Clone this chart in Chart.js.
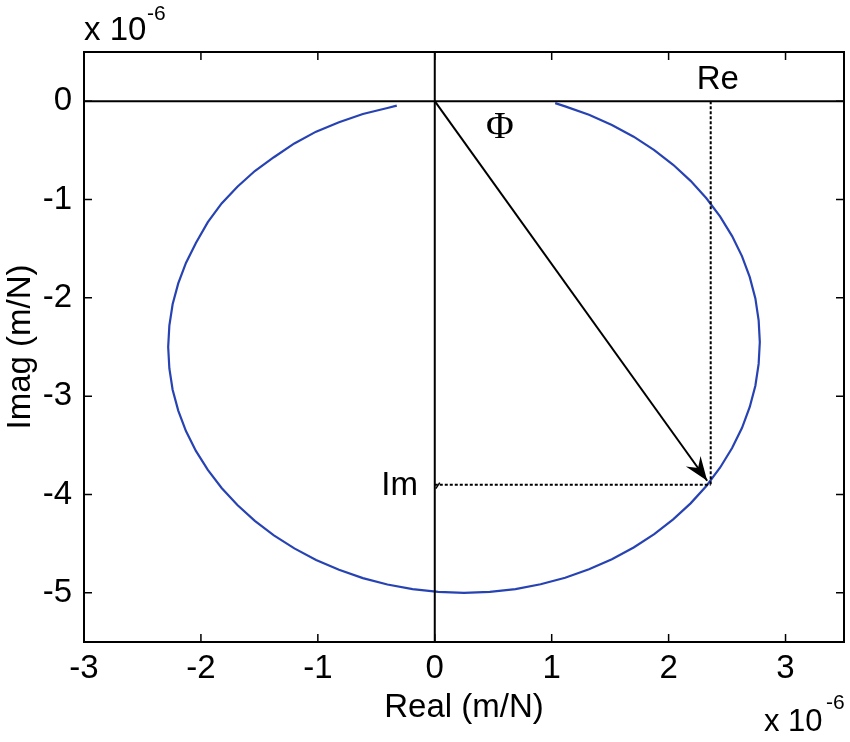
<!DOCTYPE html>
<html>
<head>
<meta charset="utf-8">
<script src="https://cdn.jsdelivr.net/npm/chart.js@4/dist/chart.umd.min.js"></script>
<style>
  html, body { margin: 0; padding: 0; background: #fff; }
  #wrap { width: 850px; height: 742px; }
</style>
</head>
<body>
<div id="wrap"><canvas id="c" width="850" height="742"></canvas></div>
<script>
// ---- Data (units of 1e-6 m/N) ----
const curveRe = [1.03, 1.115, 1.319, 1.515, 1.701, 1.877, 2.039, 2.188, 2.323, 2.441, 2.543, 2.628, 2.694, 2.742, 2.770, 2.78,
                 2.770, 2.742, 2.694, 2.628, 2.543, 2.441, 2.323, 2.188, 2.039, 1.877, 1.701, 1.515, 1.319, 1.115, 0.905, 0.69, 0.471, 0.25,
                 0.029, -0.19, -0.405, -0.615, -0.819, -1.015, -1.201, -1.376, -1.539, -1.688, -1.823, -1.941, -2.043, -2.128, -2.194, -2.242, -2.270, -2.28,
                 -2.270, -2.242, -2.194, -2.128, -2.043, -1.941, -1.823, -1.688, -1.539, -1.376, -1.201, -1.015, -0.819, -0.615, -0.405, -0.325];
const curveIm = [-0.02, -0.053, -0.139, -0.242, -0.361, -0.497, -0.647, -0.81, -0.987, -1.175, -1.372, -1.578, -1.79, -2.006, -2.228, -2.45,
                 -2.672, -2.894, -3.11, -3.322, -3.528, -3.725, -3.913, -4.09, -4.253, -4.403, -4.539, -4.658, -4.761, -4.847, -4.913, -4.962, -4.99, -5.0,
                 -4.99, -4.962, -4.915, -4.85, -4.766, -4.665, -4.548, -4.415, -4.268, -4.107, -3.934, -3.75, -3.557, -3.355, -3.147, -2.934, -2.718, -2.5,
                 -2.282, -2.066, -1.853, -1.645, -1.443, -1.23, -1.04, -0.87, -0.71, -0.57, -0.43, -0.31, -0.215, -0.13, -0.07, -0.045];
const xTicks = [-3, -2, -1, 0, 1, 2, 3];
const yTicks = [0, -1, -2, -3, -4, -5];
const xRange = [-3, 3.5];
const yRange = [-5.5, 0.5];
const pointRe = 2.36;      // projection on Re
const pointIm = -3.9;      // projection on Im
const arrowTip = [2.33, -3.86];
const labels = [
  { text: 'Re', x: 2.42, y: 0.22, font: '33px "Liberation Sans", Arial, sans-serif' },
  { text: 'Φ',  x: 0.556, y: -0.27, font: '38px "Liberation Serif", "Times New Roman", serif' },
  { text: 'Im', x: -0.30, y: -3.91, font: '33px "Liberation Sans", Arial, sans-serif' }
];

const FONT = '"Liberation Sans", Arial, Helvetica, sans-serif';
const FS = 33;

const curveData = curveRe.map((v, i) => ({ x: v, y: curveIm[i] }));

const decor = {
  id: 'decor',
  afterDatasetsDraw(chart) {
    const ctx = chart.ctx;
    const xs = chart.scales.x, ys = chart.scales.y;
    ctx.save();
    // arrowhead
    const ox = xs.getPixelForValue(0), oy = ys.getPixelForValue(0);
    const tx = xs.getPixelForValue(arrowTip[0]), ty = ys.getPixelForValue(arrowTip[1]);
    let ux = tx - ox, uy = ty - oy;
    const len = Math.hypot(ux, uy); ux /= len; uy /= len;
    const nx = -uy, ny = ux;
    const L = 24, W = 9;
    ctx.fillStyle = '#000';
    ctx.beginPath();
    ctx.moveTo(tx, ty);
    ctx.lineTo(tx - L * ux + W * nx, ty - L * uy + W * ny);
    ctx.lineTo(tx - 0.65 * L * ux, ty - 0.65 * L * uy);
    ctx.lineTo(tx - L * ux - W * nx, ty - L * uy - W * ny);
    ctx.closePath();
    ctx.fill();
    // small tick near Im label
    ctx.strokeStyle = '#000';
    ctx.lineWidth = 1.5;
    ctx.beginPath();
    ctx.moveTo(ox + 1, ys.getPixelForValue(pointIm) + 4);
    ctx.lineTo(ox + 5, ys.getPixelForValue(pointIm) - 2);
    ctx.stroke();
    // labels
    ctx.fillStyle = '#000';
    ctx.textAlign = 'center';
    ctx.textBaseline = 'middle';
    labels.forEach(l => {
      ctx.font = l.font;
      ctx.fillText(l.text, xs.getPixelForValue(l.x), ys.getPixelForValue(l.y));
    });
    ctx.restore();
  },
  afterDraw(chart) {
    const ctx = chart.ctx;
    const a = chart.chartArea;
    const xs = chart.scales.x, ys = chart.scales.y;
    ctx.save();
    // frame
    ctx.strokeStyle = '#000';
    ctx.lineWidth = 2;
    ctx.strokeRect(a.left, a.top, a.right - a.left, a.bottom - a.top);
    // inward ticks on all sides
    const T = 8;
    ctx.lineWidth = 1.5;
    ctx.beginPath();
    xTicks.forEach(v => {
      const px = xs.getPixelForValue(v);
      ctx.moveTo(px, a.bottom); ctx.lineTo(px, a.bottom - T);
      ctx.moveTo(px, a.top); ctx.lineTo(px, a.top + T);
    });
    yTicks.forEach(v => {
      const py = ys.getPixelForValue(v);
      ctx.moveTo(a.left, py); ctx.lineTo(a.left + T, py);
      ctx.moveTo(a.right, py); ctx.lineTo(a.right - T, py);
    });
    ctx.stroke();
    // exponent labels
    ctx.fillStyle = '#000';
    ctx.textAlign = 'left';
    ctx.textBaseline = 'alphabetic';
    ctx.font = FS + 'px ' + FONT;
    ctx.fillText('x 10', 84, 40);
    ctx.font = '21px ' + FONT;
    ctx.fillText('-6', 147, 20);
    ctx.font = '31px ' + FONT;
    ctx.fillText('x 10', 764, 731);
    ctx.font = '21px ' + FONT;
    ctx.fillText('-6', 826, 709);
    ctx.restore();
  }
};

const lineDs = (data, opts) => Object.assign({
  data, showLine: true, borderColor: '#000', borderWidth: 2, pointRadius: 0, fill: false, tension: 0
}, opts || {});

new Chart(document.getElementById('c'), {
  type: 'scatter',
  data: {
    datasets: [
      lineDs([{ x: xRange[0], y: 0 }, { x: xRange[1], y: 0 }]),
      lineDs([{ x: 0, y: yRange[1] }, { x: 0, y: yRange[0] }]),
      lineDs([{ x: pointRe, y: 0 }, { x: pointRe, y: pointIm }], { borderDash: [3, 2], borderWidth: 2 }),
      lineDs([{ x: 0, y: pointIm }, { x: pointRe, y: pointIm }], { borderDash: [3, 2], borderWidth: 2 }),
      lineDs([{ x: 0, y: 0 }, { x: arrowTip[0], y: arrowTip[1] }]),
      lineDs(curveData, { borderColor: '#2743b3', borderWidth: 2.2 })
    ]
  },
  options: {
    responsive: false,
    animation: false,
    events: [],
    layout: { padding: { left: 0, top: 52, right: 6, bottom: 0 } },
    plugins: { legend: { display: false }, tooltip: { enabled: false } },
    scales: {
      x: {
        type: 'linear', min: xRange[0], max: xRange[1],
        afterBuildTicks: ax => { ax.ticks = xTicks.map(v => ({ value: v })); },
        afterFit: ax => { ax.height = 100; },
        grid: { display: false, drawTicks: false },
        border: { display: false },
        ticks: { color: '#000', font: { family: FONT, size: FS }, padding: 7, maxRotation: 0, autoSkip: false,
                 callback: v => String(v) },
        title: { display: true, text: 'Real (m/N)', color: '#000', font: { family: FONT, size: FS }, padding: { top: 0, bottom: 14 } }
      },
      y: {
        type: 'linear', min: yRange[0], max: yRange[1],
        afterBuildTicks: ax => { ax.ticks = yTicks.map(v => ({ value: v })); },
        afterFit: ax => { ax.width = 84; },
        grid: { display: false, drawTicks: false },
        border: { display: false },
        ticks: { color: '#000', font: { family: FONT, size: FS }, padding: 12, autoSkip: false,
                 callback: v => String(v) },
        title: { display: true, text: 'Imag (m/N)', color: '#000', font: { family: FONT, size: FS }, padding: { top: 1, bottom: 0 } }
      }
    }
  },
  plugins: [decor]
});
</script>
</body>
</html>
